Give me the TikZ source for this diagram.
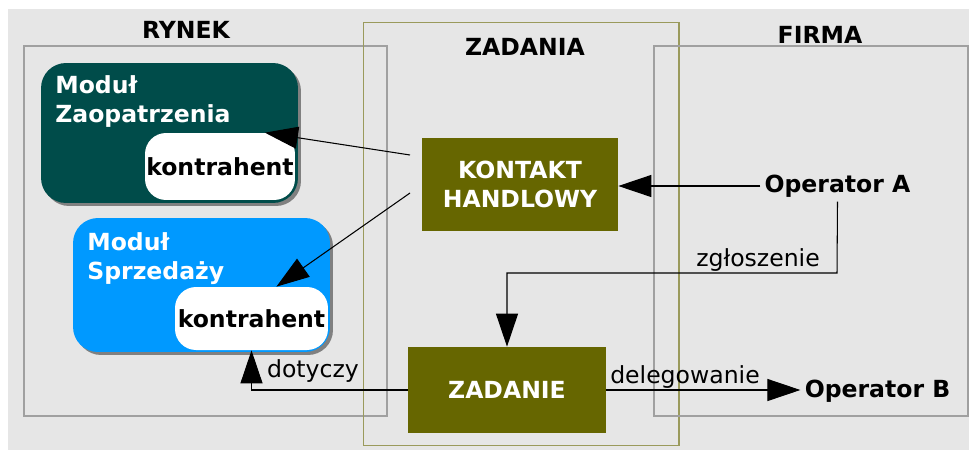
\documentclass[tikz,border=0pt]{standalone}
\usepackage{fontspec}
\setmainfont{DejaVu Sans}
\usepackage{xcolor}
\usetikzlibrary{arrows.meta,shadows}

\definecolor{tlo}{HTML}{E6E6E6}
\definecolor{ramka}{HTML}{A0A0A0}
\definecolor{ramkaz}{HTML}{9A9A5C}
\definecolor{morski}{HTML}{004C4A}
\definecolor{niebieski}{HTML}{0099FF}
\definecolor{oliwka}{HTML}{666600}
\definecolor{cien}{HTML}{808080}

\begin{document}
\begin{tikzpicture}[x=0.02cm,y=-0.02cm,
                font=\fontsize{13.4}{16}\selectfont,
                obszar/.style={draw=ramka,line width=0.7pt,inner sep=0pt},
                tytul/.style={font=\fontsize{13.4}{16}\selectfont\bfseries},
                modul/.style={rounded corners=0.5cm,inner sep=0pt,
                    drop shadow={shadow xshift=0.06cm,shadow yshift=-0.06cm,fill=cien,opacity=1}},
                podpis/.style={text=white,align=left,inner sep=0pt,anchor=base west,
                    font=\fontsize{13.4}{16}\selectfont\bfseries},
                kontrahent/.style={fill=white,rounded corners=0.42cm,inner sep=0pt,
                    font=\fontsize{13.4}{16}\selectfont\bfseries},
                zadaniebox/.style={fill=oliwka,text=white,align=center,inner sep=0pt,
                    font=\fontsize{13.4}{16.4}\selectfont\bfseries},
                operator/.style={inner sep=0.08cm,font=\fontsize{13.4}{16}\selectfont\bfseries},
                strzalka/.style={-{Triangle[length=0.66cm,width=0.44cm]},line width=0.6pt}]

                \useasboundingbox (0,0) rectangle (969,450);
                \fill[tlo] (8,9) rectangle (969,450);

                \node[obszar,minimum width=7.26cm,minimum height=7.4cm] (rynek) at (205.5,231) {};
                \node[obszar,draw=ramkaz,line width=0.6pt,minimum width=6.32cm,minimum height=8.48cm] (zadania) at (521,234) {};
                \node[obszar,minimum width=6.28cm,minimum height=7.4cm] (firma) at (811,231) {};

                \node[tytul] (rynekT) at (186,30) {RYNEK};
                \node[tytul] (zadaniaT) at (525,47) {ZADANIA};
                \node[tytul] (firmaT) at (820,35) {FIRMA};

                \node[modul,fill=morski,minimum width=5.14cm,minimum height=2.8cm] (zaop) at (169.5,133) {};
                \node[podpis] (zaopT) at (55,122) {Moduł\\Zaopatrzenia};
                \node[kontrahent,minimum width=3cm,minimum height=1.34cm] (kontrA) at (220,166.5) {kontrahent};

                \node[modul,fill=niebieski,minimum width=5.14cm,minimum height=2.68cm] (sprz) at (201.5,285) {};
                \node[podpis] (sprzT) at (87,279) {Moduł\\Sprzedaży};
                \node[kontrahent,minimum width=3.06cm,minimum height=1.26cm] (kontrB) at (251.5,318.5) {kontrahent};

                \node[zadaniebox,minimum width=3.92cm,minimum height=1.86cm] (kontakt) at (520,184.5) {KONTAKT\\HANDLOWY};
                \node[zadaniebox,minimum width=3.96cm,minimum height=1.72cm] (zadanie) at (507,390) {ZADANIE};

                \node[operator] (opA) at (837.5,186) {Operator A};
                \node[operator] (opB) at (877.5,391) {Operator B};

                \coordinate (k1) at (410,155);
                \coordinate (k2) at (410,193);
                \coordinate (zgl) at (837,273);

                \draw[strzalka] (k1) -- (kontrA.37);
                \draw[strzalka] (k2) -- (kontrB.52);
                \draw[strzalka] (opA.west) -- (kontakt.east |- opA.west);
                \draw[strzalka] (opA.south) -- (zgl) -| (zadanie.north);
                \draw[strzalka] (zadanie.west) -| (kontrB.south);
                \draw[strzalka] (zadanie.east) -- (opB.west |- zadanie.east);

                \node[anchor=base] (zglT) at (758,266) {zgłoszenie};
                \node[anchor=base] (dotT) at (313,377) {dotyczy};
                \node[anchor=base] (delT) at (685,383) {delegowanie};
            \end{tikzpicture}
\end{document}
